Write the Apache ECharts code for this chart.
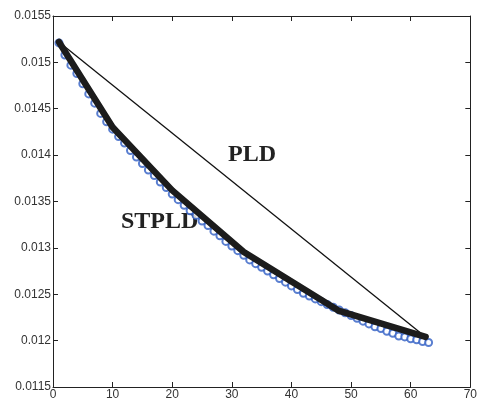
<!DOCTYPE html>
<html>
<head>
<meta charset="utf-8">
<script src="https://cdn.jsdelivr.net/npm/echarts@6/dist/echarts.min.js"></script>
<style>
  html, body { margin: 0; padding: 0; background: #fff; }
  #chart { width: 480px; height: 401px; }
</style>
</head>
<body>
<div id="chart"></div>
<script>
// sample index of the measured points
const xSamples = [];
for (let i = 1; i <= 63; i++) xSamples.push(i);
// measured values (blue circles)
const measured = [
  0.01521, 0.01508, 0.01497, 0.01488, 0.01477, 0.01466, 0.01456, 0.01445, 0.01436, 0.01428,
  0.01420, 0.01413, 0.01405, 0.01398, 0.01391, 0.01384, 0.01378, 0.01371, 0.01365, 0.01358,
  0.01352, 0.01346, 0.01340, 0.01335, 0.01329, 0.01324, 0.01318, 0.01313, 0.01307, 0.01302,
  0.01297, 0.01292, 0.01287, 0.01283, 0.01279, 0.01275, 0.01271, 0.01267, 0.01263, 0.01259,
  0.01255, 0.01251, 0.01248, 0.01245, 0.01242, 0.01239, 0.01236, 0.01233, 0.01230, 0.01227,
  0.01224, 0.01221, 0.01218, 0.01215, 0.01213, 0.01210, 0.01208, 0.01205, 0.01204, 0.01202,
  0.01201, 0.01199, 0.01198
];
// STPLD segmented approximation (thick line)
const stpldX = [1, 10, 20, 32, 48, 62.5];
const stpldY = [0.01522, 0.01430, 0.01362, 0.012956, 0.01232, 0.01204];
// PLD single segment (thin line)
const pldX = [1, 62.5];
const pldY = [0.01522, 0.01204];
// axis ticks
const xTicks = [0, 10, 20, 30, 40, 50, 60, 70];
const yTickLabels = ['0.0115', '0.012', '0.0125', '0.013', '0.0135', '0.014', '0.0145', '0.015', '0.0155'];

const zip = (xs, ys) => xs.map((x, i) => [x, ys[i]]);

const chart = echarts.init(document.getElementById('chart'));

const axisFont = { color: '#333', fontSize: 12, fontFamily: 'Liberation Sans, Arial, sans-serif' };
const lineStyle = { color: '#222', width: 1 };

chart.setOption({
  animation: false,
  grid: { left: 53, right: 6, top: 16, bottom: 14, containLabel: false },
  xAxis: [
    {
      type: 'value', min: xTicks[0], max: xTicks[xTicks.length - 1], interval: 10,
      axisLine: { show: true, onZero: false, lineStyle },
      axisTick: { show: true, inside: true, length: 5, lineStyle },
      axisLabel: Object.assign({ margin: 2 }, axisFont),
      splitLine: { show: false }
    },
    {
      type: 'value', position: 'top', min: 0, max: 70, interval: 10,
      axisLine: { show: true, onZero: false, lineStyle },
      axisTick: { show: true, inside: true, length: 5, lineStyle },
      axisLabel: { show: false },
      splitLine: { show: false }
    }
  ],
  yAxis: [
    {
      type: 'value', min: 0.0115, max: 0.0155, interval: 0.0005,
      axisLine: { show: true, onZero: false, lineStyle },
      axisTick: { show: true, inside: true, length: 5, lineStyle },
      axisLabel: Object.assign({
        margin: 2,
        formatter: function (v) {
          const idx = Math.round((v - 0.0115) / 0.0005);
          return yTickLabels[idx] || '';
        }
      }, axisFont),
      splitLine: { show: false }
    },
    {
      type: 'value', position: 'right', min: 0.0115, max: 0.0155, interval: 0.0005,
      axisLine: { show: true, onZero: false, lineStyle },
      axisTick: { show: true, inside: true, length: 5, lineStyle },
      axisLabel: { show: false },
      splitLine: { show: false }
    }
  ],
  series: [
    {
      name: 'measured',
      type: 'scatter',
      data: zip(xSamples, measured),
      symbol: 'emptyCircle',
      symbolSize: 7,
      itemStyle: { color: '#2f5ec4', borderColor: '#2f5ec4', borderWidth: 1 },
      z: 2
    },
    {
      name: 'PLD',
      type: 'line',
      data: zip(pldX, pldY),
      showSymbol: false,
      lineStyle: { color: '#111', width: 1.3 },
      z: 3
    },
    {
      name: 'STPLD',
      type: 'line',
      data: zip(stpldX, stpldY),
      showSymbol: false,
      lineStyle: { color: '#1c1c1c', width: 6.5, join: 'round', cap: 'round' },
      z: 4
    }
  ],
  graphic: [
    {
      type: 'text', left: 228, top: 143,
      style: { text: 'PLD', font: 'bold 24px "Liberation Serif", "Times New Roman", serif', fill: '#222' }
    },
    {
      type: 'text', left: 121, top: 210,
      style: { text: 'STPLD', font: 'bold 24px "Liberation Serif", "Times New Roman", serif', fill: '#222' }
    }
  ]
});
</script>
</body>
</html>
